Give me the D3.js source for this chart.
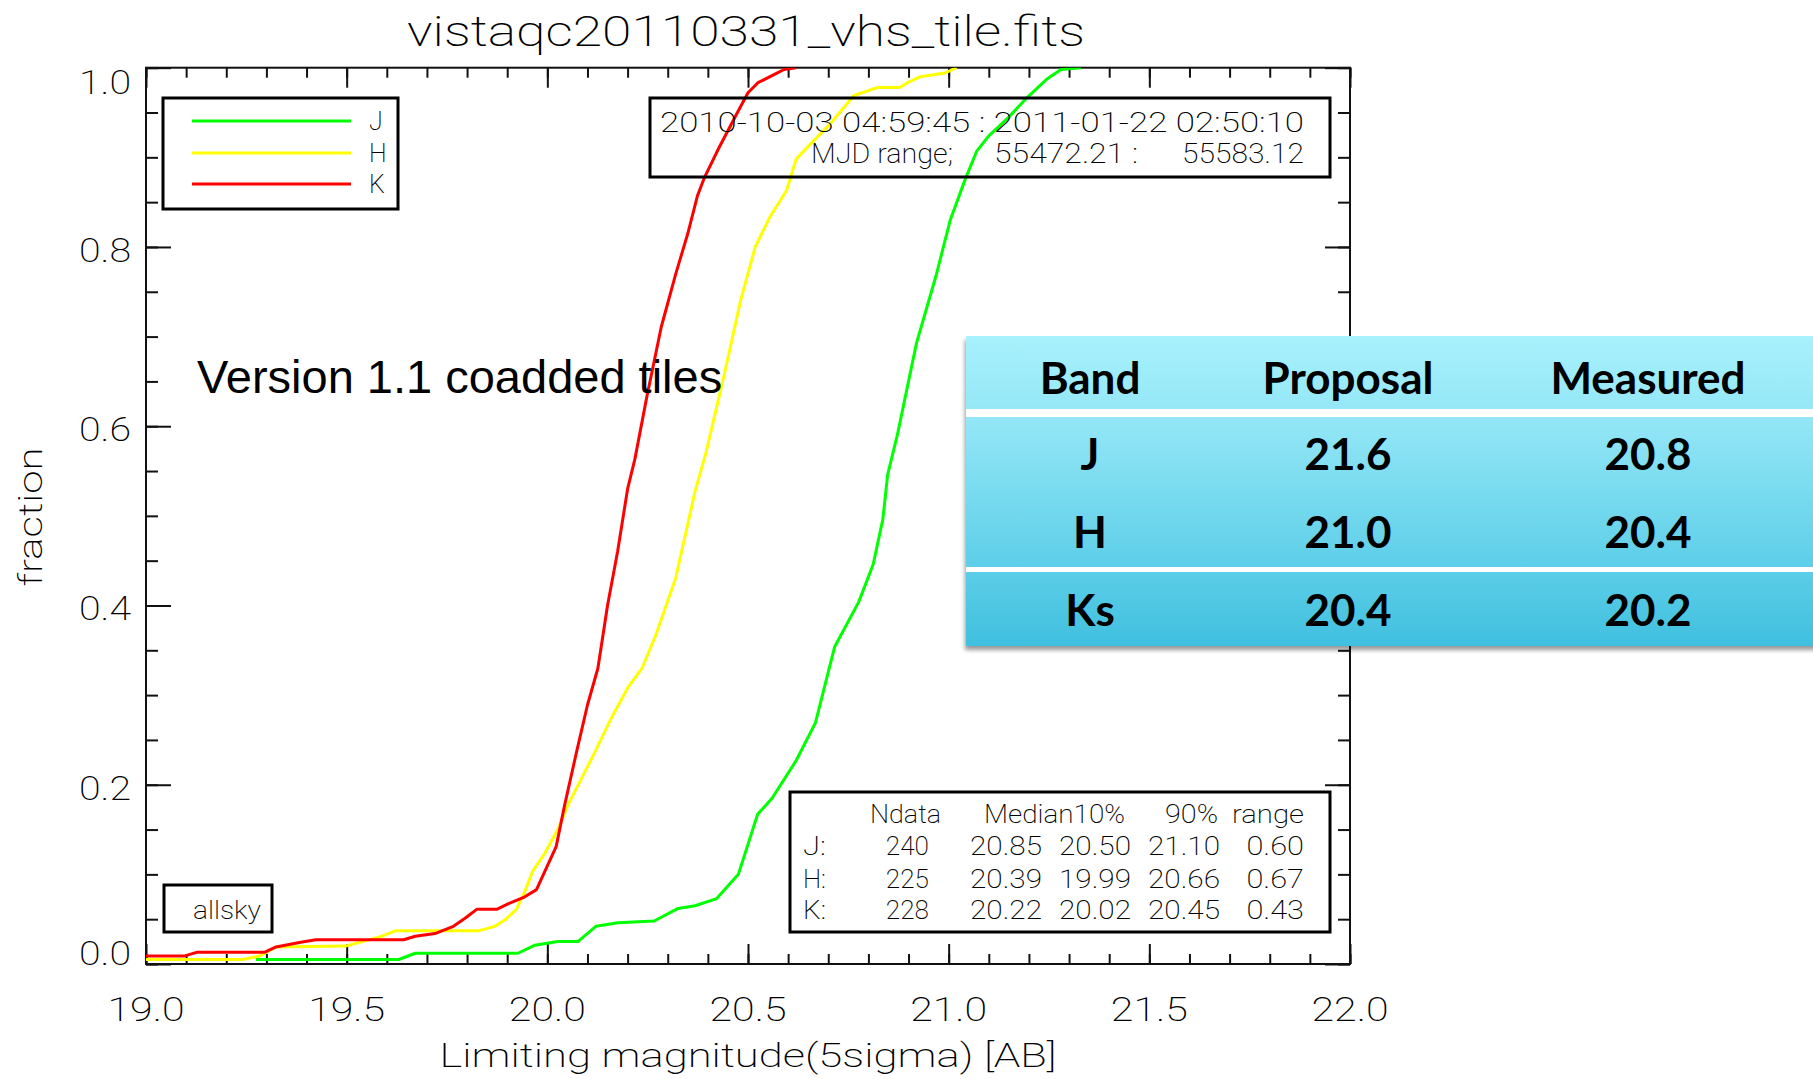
<!DOCTYPE html>
<html>
<head>
<meta charset="utf-8">
<script src="https://cdn.jsdelivr.net/npm/d3@7"></script>
<style>
  html, body { margin: 0; padding: 0; background: #fff; }
  svg { display: block; }
</style>
</head>
<body>
<svg id="chart" width="1813" height="1079"></svg>
<script>
// ---- data -----------------------------------------------------------
const bandNames = ["J", "H", "K"];

// cumulative fraction of tiles vs. 5-sigma limiting magnitude [mag, fraction]
const curveJ = [
  [19.274, 0.005], [19.63, 0.005], [19.671, 0.012], [19.927, 0.012], [19.969, 0.021],
  [20.026, 0.025], [20.076, 0.025], [20.121, 0.042], [20.176, 0.046], [20.266, 0.048],
  [20.326, 0.062], [20.368, 0.065], [20.422, 0.073], [20.476, 0.100], [20.524, 0.167],
  [20.560, 0.185], [20.620, 0.227], [20.668, 0.269], [20.716, 0.354], [20.776, 0.404],
  [20.812, 0.446], [20.836, 0.496], [20.848, 0.546], [20.872, 0.590], [20.920, 0.693],
  [20.968, 0.767], [21.004, 0.830], [21.040, 0.874], [21.070, 0.907], [21.100, 0.924],
  [21.148, 0.944], [21.196, 0.967], [21.244, 0.987], [21.280, 0.998], [21.330, 1.000]
];
const curveH = [
  [19.000, 0.005], [19.241, 0.005], [19.283, 0.009], [19.324, 0.019], [19.497, 0.020],
  [19.588, 0.031], [19.621, 0.037], [19.828, 0.037], [19.869, 0.042], [19.894, 0.049],
  [19.923, 0.061], [19.944, 0.081], [19.964, 0.104], [19.993, 0.123], [20.026, 0.150],
  [20.051, 0.177], [20.084, 0.206], [20.117, 0.235], [20.159, 0.274], [20.200, 0.308],
  [20.236, 0.330], [20.272, 0.369], [20.320, 0.431], [20.368, 0.527], [20.395, 0.570],
  [20.440, 0.656], [20.482, 0.741], [20.518, 0.800], [20.554, 0.833], [20.596, 0.863],
  [20.620, 0.898], [20.656, 0.915], [20.704, 0.937], [20.764, 0.969], [20.824, 0.978],
  [20.878, 0.978], [20.896, 0.983], [20.930, 0.990], [20.990, 0.994], [21.020, 1.000]
];
const curveK = [
  [19.000, 0.009], [19.097, 0.009], [19.126, 0.013], [19.295, 0.013], [19.324, 0.019],
  [19.382, 0.024], [19.423, 0.027], [19.642, 0.027], [19.671, 0.031], [19.720, 0.034],
  [19.766, 0.042], [19.795, 0.051], [19.824, 0.061], [19.874, 0.061], [19.902, 0.067],
  [19.944, 0.075], [19.973, 0.083], [20.022, 0.131], [20.043, 0.177], [20.072, 0.235],
  [20.100, 0.289], [20.126, 0.330], [20.150, 0.400], [20.175, 0.460], [20.200, 0.530],
  [20.218, 0.563], [20.248, 0.633], [20.284, 0.711], [20.320, 0.770], [20.350, 0.815],
  [20.374, 0.857], [20.392, 0.878], [20.428, 0.911], [20.476, 0.952], [20.500, 0.972],
  [20.524, 0.983], [20.572, 0.994], [20.590, 0.998], [20.620, 1.000]
];

const xTickValues = [19.0, 19.5, 20.0, 20.5, 21.0, 21.5, 22.0];
const xTickLabels = ["19.0", "19.5", "20.0", "20.5", "21.0", "21.5", "22.0"];
const yTickValues = [0.0, 0.2, 0.4, 0.6, 0.8, 1.0];
const yTickLabels = ["0.0", "0.2", "0.4", "0.6", "0.8", "1.0"];

const dateLine = "2010-10-03 04:59:45 : 2011-01-22 02:50:10";
const mjdLine = ["MJD range;", "55472.21 :", "55583.12"];

const statsHeader = ["Ndata", "Median10%", "90%", "range"];
const statsLabels = ["J:", "H:", "K:"];
const statsNdata = ["240", "225", "228"];
const statsMedian = ["20.85", "20.39", "20.22"];
const statsP10 = ["20.50", "19.99", "20.02"];
const statsP90 = ["21.10", "20.66", "20.45"];
const statsRange = ["0.60", "0.67", "0.43"];

const tableHeader = ["Band", "Proposal", "Measured"];
const tableBands = ["J", "H", "Ks"];
const tableProposal = ["21.6", "21.0", "20.4"];
const tableMeasured = ["20.8", "20.4", "20.2"];

// ---- layout ---------------------------------------------------------
const svg = d3.select("#chart");
const P = { left: 146, right: 1350, top: 67.7, bottom: 964 };
const idlFont = "Roboto, 'DejaVu Sans', sans-serif";
const idlWeight = 200;

const x = d3.scaleLinear().domain([19, 22]).range([P.left, P.right]);
const y = d3.scaleLinear().domain([0, 1]).range([P.bottom, P.top]);

svg.append("rect").attr("width", 1813).attr("height", 1079).attr("fill", "#fff");

// clip region for curves
svg.append("defs").append("clipPath").attr("id", "plotClip")
  .append("rect").attr("x", P.left).attr("y", P.top)
  .attr("width", P.right - P.left).attr("height", P.bottom - P.top);

// ---- axes (ticks pointing into the frame on all four sides) ----------
const xMinor = d3.range(0, 31).map(i => 19 + i * 0.1);
const yMinor = d3.range(0, 21).map(i => i * 0.05);

function styleAxis(g) {
  g.select(".domain").remove();
  g.selectAll("line").attr("stroke", "#111").attr("stroke-width", 2);
  g.selectAll("text").remove();
}
svg.append("g").attr("transform", `translate(0,${P.bottom})`)
  .call(d3.axisBottom(x).tickValues(xMinor).tickSize(-10)).call(styleAxis);
svg.append("g").attr("transform", `translate(0,${P.bottom})`)
  .call(d3.axisBottom(x).tickValues(xTickValues).tickSize(-20)).call(styleAxis);
svg.append("g").attr("transform", `translate(0,${P.top})`)
  .call(d3.axisTop(x).tickValues(xMinor).tickSize(-10)).call(styleAxis);
svg.append("g").attr("transform", `translate(0,${P.top})`)
  .call(d3.axisTop(x).tickValues(xTickValues).tickSize(-20)).call(styleAxis);
svg.append("g").attr("transform", `translate(${P.left},0)`)
  .call(d3.axisLeft(y).tickValues(yMinor).tickSize(-12)).call(styleAxis);
svg.append("g").attr("transform", `translate(${P.left},0)`)
  .call(d3.axisLeft(y).tickValues(yTickValues).tickSize(-25)).call(styleAxis);
svg.append("g").attr("transform", `translate(${P.right},0)`)
  .call(d3.axisRight(y).tickValues(yMinor).tickSize(-12)).call(styleAxis);
svg.append("g").attr("transform", `translate(${P.right},0)`)
  .call(d3.axisRight(y).tickValues(yTickValues).tickSize(-25)).call(styleAxis);

svg.append("rect")
  .attr("x", P.left).attr("y", P.top)
  .attr("width", P.right - P.left).attr("height", P.bottom - P.top)
  .attr("fill", "none").attr("stroke", "#111").attr("stroke-width", 2);

// tick labels
svg.append("g").selectAll("text").data(xTickValues).join("text")
  .attr("x", d => x(d)).attr("y", P.bottom + 57)
  .attr("text-anchor", "middle")
  .attr("font-family", idlFont).attr("font-weight", idlWeight).attr("font-size", 34)
  .attr("textLength", 77).attr("lengthAdjust", "spacingAndGlyphs")
  .text((d, i) => xTickLabels[i]);

// end labels are pulled inward, as the plotting package does
const yLabelShift = v => (v === 1 ? 14 : v === 0 ? -11 : 3);
svg.append("g").selectAll("text").data(yTickValues).join("text")
  .attr("x", P.left - 15).attr("y", d => y(d) + yLabelShift(d) + 12)
  .attr("text-anchor", "end")
  .attr("font-family", idlFont).attr("font-weight", idlWeight).attr("font-size", 34)
  .attr("textLength", 52).attr("lengthAdjust", "spacingAndGlyphs")
  .text((d, i) => yTickLabels[i]);

// axis titles
svg.append("text")
  .attr("x", (P.left + P.right) / 2).attr("y", 1067)
  .attr("text-anchor", "middle")
  .attr("font-family", idlFont).attr("font-weight", idlWeight).attr("font-size", 34)
  .attr("textLength", 617).attr("lengthAdjust", "spacingAndGlyphs")
  .text("Limiting magnitude(5sigma) [AB]");

svg.append("text")
  .attr("transform", "translate(42,517) rotate(-90)")
  .attr("text-anchor", "middle")
  .attr("font-family", idlFont).attr("font-weight", idlWeight).attr("font-size", 34)
  .attr("textLength", 139).attr("lengthAdjust", "spacingAndGlyphs")
  .text("fraction");

svg.append("text")
  .attr("x", 746).attr("y", 46)
  .attr("text-anchor", "middle")
  .attr("font-family", idlFont).attr("font-weight", idlWeight).attr("font-size", 43)
  .attr("textLength", 678).attr("lengthAdjust", "spacingAndGlyphs")
  .text("vistaqc20110331_vhs_tile.fits");

// ---- curves ----------------------------------------------------------
const bandColor = { J: "#00ff00", H: "#ffff00", K: "#ff0000" };
const curves = { J: curveJ, H: curveH, K: curveK };
const line = d3.line().x(d => x(d[0])).y(d => y(d[1]));

svg.append("g").attr("clip-path", "url(#plotClip)")
  .selectAll("path").data(bandNames).join("path")
  .attr("d", b => line(curves[b]))
  .attr("fill", "none")
  .attr("stroke", b => bandColor[b])
  .attr("stroke-width", 3)
  .attr("stroke-linejoin", "round");

// ---- legend ------------------------------------------------------------
const legend = svg.append("g");
legend.append("rect").attr("x", 163).attr("y", 98).attr("width", 235).attr("height", 111)
  .attr("fill", "none").attr("stroke", "#000").attr("stroke-width", 3);
const legendY = [121, 153, 184];
legend.selectAll("line").data(bandNames).join("line")
  .attr("x1", 192).attr("x2", 351)
  .attr("y1", (d, i) => legendY[i]).attr("y2", (d, i) => legendY[i])
  .attr("stroke", d => bandColor[d]).attr("stroke-width", 3);
legend.selectAll("text").data(bandNames).join("text")
  .attr("x", 369).attr("y", (d, i) => legendY[i] + 9)
  .attr("font-family", idlFont).attr("font-weight", idlWeight).attr("font-size", 25)
  .text(d => d);

// ---- date / MJD box ----------------------------------------------------
const dateBox = svg.append("g");
dateBox.append("rect").attr("x", 650).attr("y", 98).attr("width", 680).attr("height", 79)
  .attr("fill", "none").attr("stroke", "#000").attr("stroke-width", 3);
dateBox.append("text").attr("x", 660).attr("y", 132)
  .attr("font-family", idlFont).attr("font-weight", idlWeight).attr("font-size", 27)
  .attr("textLength", 644).attr("lengthAdjust", "spacingAndGlyphs")
  .text(dateLine);
const mjdX = [811, 994, 1182];
const mjdW = [142, 144, 122];
dateBox.selectAll("text.mjd").data(mjdLine).join("text").attr("class", "mjd")
  .attr("x", (d, i) => mjdX[i]).attr("y", 163)
  .attr("font-family", idlFont).attr("font-weight", idlWeight).attr("font-size", 27)
  .attr("textLength", (d, i) => mjdW[i]).attr("lengthAdjust", "spacingAndGlyphs")
  .text(d => d);

// ---- statistics box ------------------------------------------------------
const stats = svg.append("g")
  .attr("font-family", idlFont).attr("font-weight", idlWeight).attr("font-size", 26);
stats.append("rect").attr("x", 790).attr("y", 792).attr("width", 540).attr("height", 140)
  .attr("fill", "none").attr("stroke", "#000").attr("stroke-width", 3);
const headRight = [941, 1125, 1218, 1304];
const headWidth = [71, 141, 53, 72];
stats.selectAll("text.head").data(statsHeader).join("text").attr("class", "head")
  .attr("x", (d, i) => headRight[i]).attr("y", 823).attr("text-anchor", "end")
  .attr("textLength", (d, i) => headWidth[i]).attr("lengthAdjust", "spacingAndGlyphs")
  .text(d => d);
const rowBase = [855, 888, 919];
const colRight = [929, 1042, 1131, 1220, 1304];
const cols = [statsNdata, statsMedian, statsP10, statsP90, statsRange];
stats.selectAll("text.lab").data(statsLabels).join("text").attr("class", "lab")
  .attr("x", 803).attr("y", (d, i) => rowBase[i])
  .attr("textLength", 23).attr("lengthAdjust", "spacingAndGlyphs")
  .text(d => d);
cols.forEach((col, c) => {
  stats.selectAll(`text.c${c}`).data(col).join("text").attr("class", `c${c}`)
    .attr("x", colRight[c]).attr("y", (d, i) => rowBase[i]).attr("text-anchor", "end")
    .attr("textLength", d => d.length * 14.4).attr("lengthAdjust", "spacingAndGlyphs")
    .text(d => d);
});

// ---- allsky tag ----------------------------------------------------------
svg.append("rect").attr("x", 164).attr("y", 885).attr("width", 108).attr("height", 47)
  .attr("fill", "none").attr("stroke", "#000").attr("stroke-width", 3);
svg.append("text").attr("x", 193).attr("y", 919)
  .attr("font-family", idlFont).attr("font-weight", idlWeight).attr("font-size", 26)
  .attr("textLength", 68).attr("lengthAdjust", "spacingAndGlyphs")
  .text("allsky");

// ---- annotation ------------------------------------------------------------
svg.append("text").attr("x", 197).attr("y", 393)
  .attr("font-family", "'Liberation Sans', Arial, sans-serif").attr("font-size", 47)
  .attr("fill", "#000")
  .text("Version 1.1 coadded tiles");

// ---- depth comparison table ------------------------------------------------
const defs = svg.select("defs");
const grad = defs.append("linearGradient").attr("id", "tableGrad")
  .attr("x1", 0).attr("y1", 0).attr("x2", 0).attr("y2", 1);
[["0", "#a8f1fd"], ["0.3", "#90e5f5"], ["0.65", "#68d3eb"], ["1", "#40c0df"]]
  .forEach(([o, c]) => grad.append("stop").attr("offset", o).attr("stop-color", c));
const shadow = defs.append("filter").attr("id", "tableShadow")
  .attr("x", "-5%").attr("y", "-5%").attr("width", "110%").attr("height", "115%");
shadow.append("feDropShadow").attr("dx", -1).attr("dy", 4).attr("stdDeviation", 2)
  .attr("flood-color", "#000").attr("flood-opacity", 0.4);

const table = svg.append("g");
table.append("rect").attr("x", 966).attr("y", 336).attr("width", 880).attr("height", 310)
  .attr("fill", "url(#tableGrad)").attr("filter", "url(#tableShadow)");
table.append("rect").attr("x", 966).attr("y", 409).attr("width", 880).attr("height", 8).attr("fill", "#fff");
table.append("rect").attr("x", 966).attr("y", 567).attr("width", 880).attr("height", 5).attr("fill", "#fff");

const colX = [1090, 1348, 1648];
const tBase = [394, 470, 548, 626];
const tableRows = [tableHeader].concat(tableBands.map((b, i) => [b, tableProposal[i], tableMeasured[i]]));
tableRows.forEach((row, r) => {
  table.selectAll(`text.r${r}`).data(row).join("text").attr("class", `r${r}`)
    .attr("x", (d, i) => colX[i]).attr("y", tBase[r])
    .attr("text-anchor", "middle")
    .attr("font-family", "Lato, 'Open Sans', sans-serif").attr("font-weight", 700)
    .attr("font-size", 44).attr("fill", "#000")
    .text(d => d);
});
</script>
</body>
</html>
